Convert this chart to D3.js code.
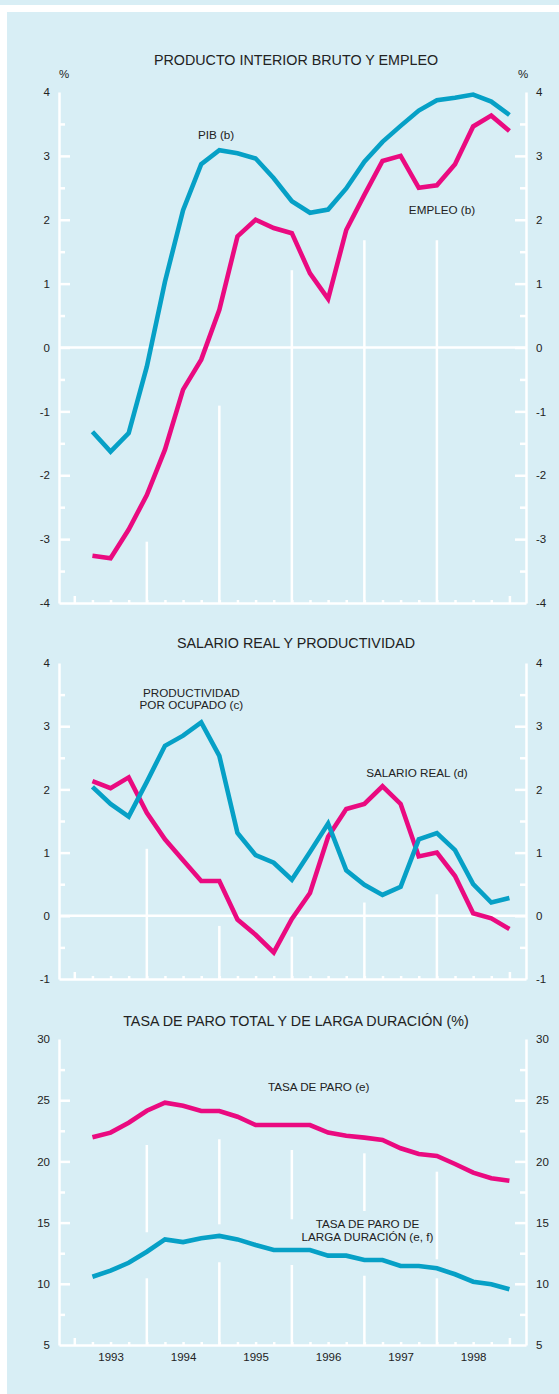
<!DOCTYPE html>
<html>
<head>
<meta charset="utf-8">
<script src="https://cdn.jsdelivr.net/npm/d3@7"></script>
<style>
  body { margin: 0; background: #fff; }
  svg { display: block; font-family: "Liberation Sans", Arial, sans-serif; }
  .axis path, .axis line { stroke: #fff; stroke-width: 2.5; }
  .axis text { fill: #222; font-size: 11.5px; }
</style>
</head>
<body>
<div id="chart"></div>
<script>
// quarterly values, 1993 I .. 1998 IV
const quarterLabels = [
  "93-I", "93-II", "93-III", "93-IV", "94-I", "94-II", "94-III", "94-IV",
  "95-I", "95-II", "95-III", "95-IV", "96-I", "96-II", "96-III", "96-IV",
  "97-I", "97-II", "97-III", "97-IV", "98-I", "98-II", "98-III", "98-IV",
];
const years = ["1993", "1994", "1995", "1996", "1997", "1998"];

const pib = [-1.32, -1.63, -1.34, -0.3, 1.03, 2.15, 2.87, 3.09, 3.04, 2.96, 2.65, 2.29,
  2.11, 2.16, 2.49, 2.91, 3.22, 3.47, 3.71, 3.87, 3.91, 3.96, 3.85, 3.64];
const empleo = [-3.26, -3.3, -2.85, -2.31, -1.6, -0.66, -0.19, 0.59, 1.74, 2.0, 1.87, 1.79,
  1.16, 0.76, 1.84, 2.39, 2.92, 3.0, 2.5, 2.54, 2.87, 3.46, 3.63, 3.39];

const productividad = [2.04, 1.77, 1.57, 2.12, 2.69, 2.85, 3.06, 2.53, 1.31, 0.96, 0.84, 0.57,
  1.01, 1.46, 0.72, 0.49, 0.33, 0.46, 1.21, 1.31, 1.04, 0.5, 0.21, 0.28];
const salarioReal = [2.13, 2.02, 2.19, 1.63, 1.21, 0.88, 0.55, 0.55, -0.06, -0.3, -0.58, -0.05,
  0.36, 1.25, 1.69, 1.77, 2.05, 1.77, 0.94, 1.0, 0.63, 0.04, -0.04, -0.21];

const tasaParo = [21.97, 22.35, 23.16, 24.14, 24.8, 24.55, 24.12, 24.12, 23.65, 22.97, 22.97, 22.97,
  22.97, 22.35, 22.1, 21.94, 21.75, 21.07, 20.6, 20.44, 19.79, 19.08, 18.62, 18.42];
const paroLarga = [10.58, 11.07, 11.72, 12.62, 13.63, 13.41, 13.72, 13.91, 13.63, 13.17, 12.76, 12.76,
  12.76, 12.3, 12.3, 11.94, 11.94, 11.45, 11.45, 11.27, 10.78, 10.17, 9.96, 9.55];

// tick labels and minor ticks
const ticksPib = [-4, -3, -2, -1, 0, 1, 2, 3, 4];
const minorPib = [-3.5, -2.5, -1.5, -0.5, 0.5, 1.5, 2.5, 3.5];
const ticksSalario = [-1, 0, 1, 2, 3, 4];
const minorSalario = [-0.5, 0.5, 1.5, 2.5, 3.5];
const ticksParo = [5, 10, 15, 20, 25, 30];
const minorParo = [7.5, 12.5, 17.5, 22.5, 27.5];

// year separators: [quarter boundary, from value, to value]
const sepPib = [[4, -4, -3.04], [8, -4, -0.91], [12, -4, 1.21], [16, -4, 1.68], [20, -4, 1.68]];
const sepSalario = [[4, -1, 1.06], [8, -1, -0.16], [12, -1, -0.33], [16, -1, 0.21], [20, -1, 0.34]];
const sepParo = [[4, 5, 10.45], [4, 14.21, 21.34], [8, 5, 11.76], [8, 14.86, 21.81],
  [12, 5, 11.54], [12, 15.27, 20.93], [16, 5, 10.66], [16, 15.95, 20.66],
  [20, 5, 10.45], [20, 12.0, 19.16]];

const width = 559;
const height = 1394;
const plotLeft = 59;
const plotRight = 526;
const blue = "#06a0c6";
const pink = "#ea0a80";

const svg = d3
  .select("#chart")
  .append("svg")
  .attr("width", width)
  .attr("height", height);

// background
svg.append("rect").attr("width", width).attr("height", height).attr("fill", "#fff");
svg.append("rect").attr("width", width).attr("height", 5).attr("fill", "#d8eef5");
svg.append("rect").attr("x", 7).attr("y", 12).attr("width", width - 7).attr("height", height - 12).attr("fill", "#d8eef5");

// x: quarters counted from the start of 1993
const x = d3.scaleLinear().domain([-0.844, 24.915]).range([plotLeft, plotRight]);

const panels = [
  {
    title: "PRODUCTO INTERIOR BRUTO Y EMPLEO",
    titleY: 60, top: 92, bottom: 603, domain: [-4, 4],
    ticks: ticksPib, minor: minorPib, seps: sepPib, zero: true, percent: true, yearLabels: false,
    series: [{ values: empleo, color: pink }, { values: pib, color: blue }],
    labels: [
      { text: ["PIB (b)"], t: 7.82, v: 3.33 },
      { text: ["EMPLEO (b)"], t: 20.28, v: 2.15 },
    ],
  },
  {
    title: "SALARIO REAL Y PRODUCTIVIDAD",
    titleY: 643, top: 663, bottom: 979, domain: [-1, 4],
    ticks: ticksSalario, minor: minorSalario, seps: sepSalario, zero: true, percent: false, yearLabels: false,
    series: [{ values: salarioReal, color: pink }, { values: productividad, color: blue }],
    labels: [
      { text: ["PRODUCTIVIDAD", "POR OCUPADO (c)"], t: 6.46, v: 3.53 },
      { text: ["SALARIO REAL (d)"], t: 18.9, v: 2.26 },
    ],
  },
  {
    title: "TASA DE PARO TOTAL Y DE LARGA DURACIÓN (%)",
    titleY: 1021, top: 1039, bottom: 1345, domain: [5, 30],
    ticks: ticksParo, minor: minorParo, seps: sepParo, zero: false, percent: false, yearLabels: true,
    series: [{ values: tasaParo, color: pink }, { values: paroLarga, color: blue }],
    labels: [
      { text: ["TASA DE PARO (e)"], t: 13.48, v: 26.08 },
      { text: ["TASA DE PARO DE", "LARGA DURACIÓN (e, f)"], t: 16.17, v: 14.86 },
    ],
  },
];

panels.forEach(drawPanel);

function drawPanel(p) {
  const y = d3.scaleLinear().domain(p.domain).range([p.bottom, p.top]);
  const g = svg.append("g");
  const ends = p.domain;
  const inner = p.ticks.filter((d) => d !== ends[0] && d !== ends[1]);

  // title
  g.append("text")
    .attr("x", 296)
    .attr("y", p.titleY)
    .attr("dy", "0.35em")
    .attr("text-anchor", "middle")
    .style("font-size", "14.3px")
    .attr("fill", "#222")
    .text(p.title);

  if (p.percent) {
    [plotLeft + 5, plotRight - 3].forEach((px) => {
      g.append("text")
        .attr("x", px)
        .attr("y", 74)
        .attr("dy", "0.35em")
        .attr("text-anchor", "middle")
        .style("font-size", "11.5px")
        .attr("fill", "#222")
        .text("%");
    });
  }

  // year separators
  g.append("g")
    .selectAll("line")
    .data(p.seps)
    .join("line")
    .attr("x1", (d) => x(d[0]))
    .attr("x2", (d) => x(d[0]))
    .attr("y1", (d) => y(d[1]))
    .attr("y2", (d) => y(d[2]))
    .attr("stroke", "#fff")
    .attr("stroke-width", 2.5);

  if (p.zero) {
    g.append("line")
      .attr("x1", plotLeft)
      .attr("x2", plotRight)
      .attr("y1", y(0))
      .attr("y2", y(0))
      .attr("stroke", "#fff")
      .attr("stroke-width", 2.5);
  }

  // bottom axis with quarter ticks
  const bottomAxis = g
    .append("g")
    .attr("class", "axis")
    .attr("transform", `translate(0, ${p.bottom})`)
    .call(
      d3.axisBottom(x)
        .tickValues(d3.range(0, quarterLabels.length + 1))
        .tickSize(-3)
        .tickSizeOuter(0)
        .tickFormat("")
    );
  bottomAxis
    .selectAll(".tick line")
    .filter((d) => d === 0 || d === quarterLabels.length)
    .attr("y2", -7);

  if (p.yearLabels) {
    g.append("g")
      .attr("class", "axis")
      .attr("transform", `translate(0, ${p.bottom})`)
      .call(
        d3.axisBottom(x)
          .tickValues(years.map((d, i) => i * 4 + 2))
          .tickSize(0)
          .tickPadding(8)
          .tickFormat((d) => years[(d - 2) / 4])
      )
      .call((a) => a.select(".domain").remove());
  }

  // left and right axes
  [
    { pos: plotLeft, make: d3.axisLeft },
    { pos: plotRight, make: d3.axisRight },
  ].forEach(({ pos, make }) => {
    const a = g.append("g").attr("class", "axis").attr("transform", `translate(${pos}, 0)`);
    a.call(
      make(y)
        .tickValues(p.ticks)
        .tickSize(0)
        .tickSizeOuter(0)
        .tickPadding(pos === plotLeft ? 9 : 10)
        .tickFormat((d) => String(d))
    );
    a.append("g")
      .call(make(y).tickValues(inner).tickSize(-11).tickFormat(""))
      .call((s) => s.select(".domain").remove());
    a.append("g")
      .call(make(y).tickValues(p.minor).tickSize(-6).tickFormat(""))
      .call((s) => s.select(".domain").remove());
    a.selectAll("text").attr("text-anchor", pos === plotLeft ? "end" : "start");
  });

  // lines
  const line = d3
    .line()
    .x((d, i) => x(i + 1))
    .y((d) => y(d));

  g.append("g")
    .selectAll("path")
    .data(p.series)
    .join("path")
    .attr("d", (d) => line(d.values))
    .attr("fill", "none")
    .attr("stroke", (d) => d.color)
    .attr("stroke-width", 4.6);

  // series labels
  p.labels.forEach((l) => {
    const t = g
      .append("text")
      .attr("x", x(l.t))
      .attr("y", y(l.v))
      .attr("text-anchor", "middle")
      .style("font-size", "11.7px")
      .attr("fill", "#222");
    l.text.forEach((s, i) => {
      t.append("tspan")
        .attr("x", x(l.t))
        .attr("dy", i === 0 ? "0.35em" : "1.06em")
        .text(s);
    });
  });
}
</script>
</body>
</html>
